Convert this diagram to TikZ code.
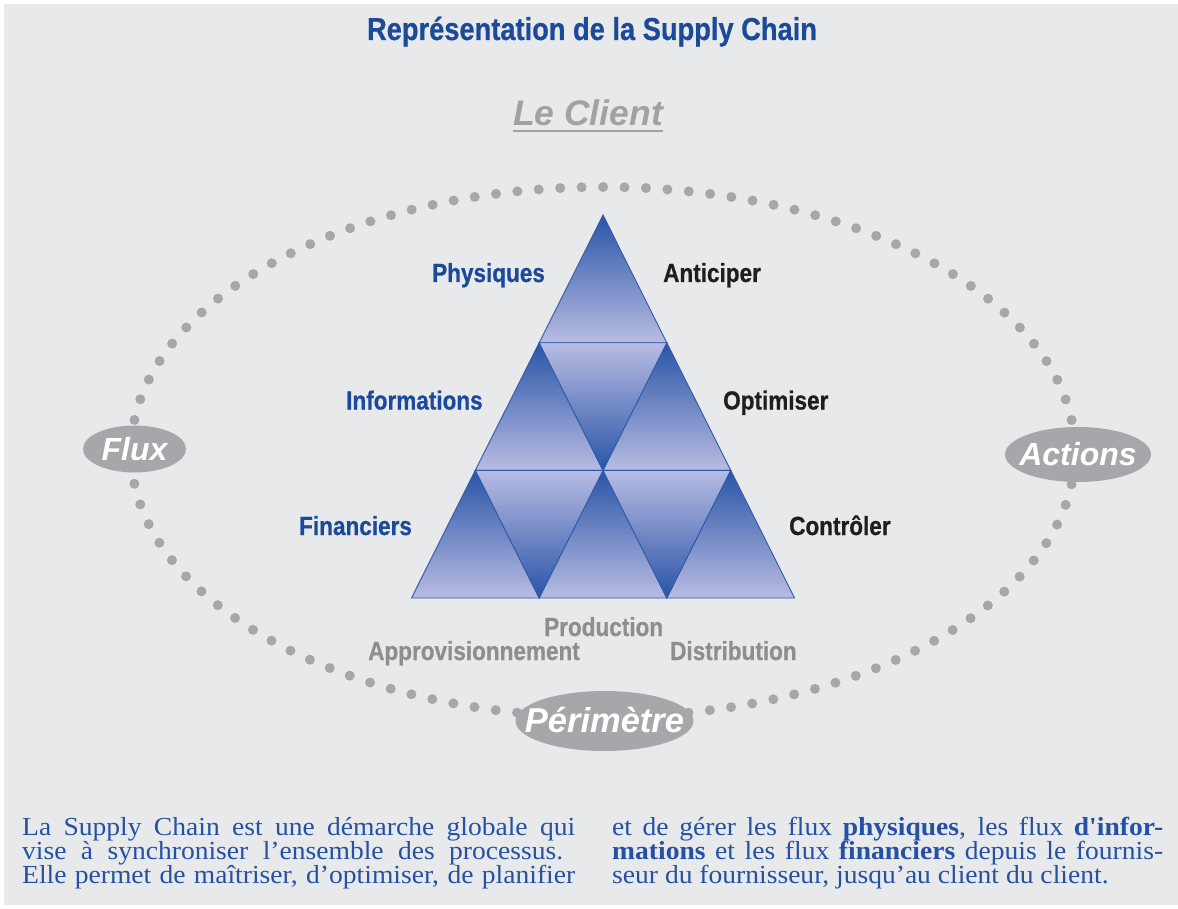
\documentclass[tikz,border=0pt]{standalone}
\usepackage{fontspec}
\setmainfont{Liberation Serif}
\newfontfamily\condfont[FakeStretch=0.86, BoldFeatures={FakeBold=0.6}]{Liberation Sans}
\newfontfamily\badgefont{Liberation Sans}
\newfontfamily\bodyfont[FakeStretch=1.06]{Liberation Serif}

\definecolor{paper}{HTML}{E8E9EB}
\definecolor{titleblue}{HTML}{1C4A9A}
\definecolor{textblue}{HTML}{2451A3}
\definecolor{dotgrey}{HTML}{A6A7AA}
\definecolor{capgrey}{HTML}{A1A2A5}
\definecolor{stagegrey}{HTML}{8D8E91}
\definecolor{actionblack}{HTML}{1E1E1C}
\definecolor{tridark}{HTML}{2A54A7}
\definecolor{trilight}{HTML}{B8BCE2}
\definecolor{triedge}{HTML}{2F5AAC}

\begin{document}
\begin{tikzpicture}[x=1pt,y=-1pt,
  upcell/.style={draw=triedge, line width=0.9pt, top color=tridark, bottom color=trilight},
  downcell/.style={draw=triedge, line width=0.9pt, top color=trilight, bottom color=tridark},
  badge/.style={fill=dotgrey},
  badgetext/.style={font=\badgefont\bfseries\itshape\fontsize{32}{36}\selectfont, text=white,
    inner sep=0pt, text height=22pt, text depth=0pt, anchor=center},
  flowlabel/.style={font=\condfont\bfseries\fontsize{26.2}{30}\selectfont, text=titleblue,
    inner sep=0pt, anchor=base west},
  actionlabel/.style={flowlabel, text=actionblack},
  stagelabel/.style={flowlabel, text=stagegrey},
  bodyline/.style={font=\bodyfont\fontsize{26}{30}\selectfont, text=textblue,
    inner sep=0pt, anchor=base west}
]
% page and panel
\fill[white] (0,0) rectangle (1178,909);
\fill[paper] (4,4) rectangle (1178,905);
\useasboundingbox (0,0) rectangle (1178,909);

% heading
\node[font=\condfont\bfseries\fontsize{31.7}{36}\selectfont, text=titleblue, inner sep=0pt, anchor=base]
  (title) at (592,40) {Représentation de la Supply Chain};
\node[font=\badgefont\bfseries\itshape\fontsize{35.5}{40}\selectfont, text=capgrey, inner sep=0pt, anchor=base]
  (client) at (588,126) {Le Client};
\draw[capgrey, line width=2pt] ([yshift=-5pt]client.base west) -- ([yshift=-5pt]client.base east);

% dotted ring
\draw[dotgrey, line width=10pt, line cap=round,
  dash pattern=on 0pt off 21.466pt, dash phase=10.733pt]
  (603,452) ellipse [x radius=472pt, y radius=265pt];

% badges on the ring
\fill[badge] (134.5,449) ellipse [x radius=51.5pt, y radius=23.5pt];
\node[badgetext] (flux) at (134.5,449) {Flux};
\fill[badge] (1078,454.5) ellipse [x radius=73pt, y radius=27.5pt];
\node[badgetext] (actions) at (1078,454.5) {Actions};
\fill[badge] (604.5,721) ellipse [x radius=89pt, y radius=30pt];
\node[badgetext, font=\badgefont\bfseries\itshape\fontsize{34.5}{38}\selectfont] (perimetre) at (604.5,721) {Périmètre};

% triangle lattice
\coordinate (p00) at (603,215);
\coordinate (p10) at (539.2,342.7);
\coordinate (p11) at (666.8,342.7);
\coordinate (p20) at (475.3,470.3);
\coordinate (p21) at (603,470.3);
\coordinate (p22) at (730.7,470.3);
\coordinate (p30) at (411.5,598);
\coordinate (p31) at (539.2,598);
\coordinate (p32) at (666.8,598);
\coordinate (p33) at (794.5,598);

\path[upcell] (p00) -- (p10) -- (p11) -- cycle;
\path[upcell] (p10) -- (p20) -- (p21) -- cycle;
\path[upcell] (p11) -- (p21) -- (p22) -- cycle;
\path[upcell] (p20) -- (p30) -- (p31) -- cycle;
\path[upcell] (p21) -- (p31) -- (p32) -- cycle;
\path[upcell] (p22) -- (p32) -- (p33) -- cycle;
\path[downcell] (p10) -- (p11) -- (p21) -- cycle;
\path[downcell] (p20) -- (p21) -- (p31) -- cycle;
\path[downcell] (p21) -- (p22) -- (p32) -- cycle;

% flows
\node[flowlabel] (phys) at (432,282) {Physiques};
\node[flowlabel] (info) at (346,409.5) {Informations};
\node[flowlabel] (fin) at (299,535) {Financiers};
% actions
\node[actionlabel] (anticiper) at (663,282) {Anticiper};
\node[actionlabel] (optimiser) at (723,409.5) {Optimiser};
\node[actionlabel] (controler) at (789,535) {Contrôler};
% stages
\node[stagelabel] (prod) at (544,636) {Production};
\node[stagelabel] (appro) at (368,660) {Approvisionnement};
\node[stagelabel] (distri) at (670,660) {Distribution};

% text block
\node[bodyline] (l1) at (22,835) {\makebox[553pt][s]{La Supply Chain est une démarche globale qui}};
\node[bodyline] (l2) at (22,859) {\makebox[541pt][s]{vise à synchroniser l’ensemble des processus.}};
\node[bodyline] (l3) at (22,883) {\makebox[553pt][s]{Elle permet de maîtriser, d’optimiser, de planifier}};
\node[bodyline] (r1) at (612,835) {\makebox[551pt][s]{et de gérer les flux \textbf{physiques}, les flux \textbf{d'infor-}}};
\node[bodyline] (r2) at (612,859) {\makebox[551pt][s]{\textbf{mations} et les flux \textbf{financiers} depuis le fournis-}};
\node[bodyline] (r3) at (612,883) {seur du fournisseur, jusqu’au client du client.};
\end{tikzpicture}
\end{document}
